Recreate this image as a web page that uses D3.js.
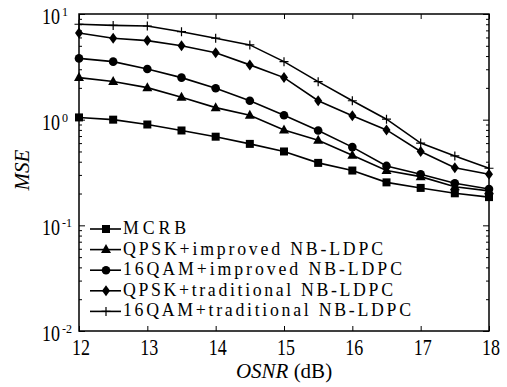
<!DOCTYPE html>
<html>
<head>
<meta charset="utf-8">
<script src="https://cdn.jsdelivr.net/npm/d3@7"></script>
<style>
  body { margin: 0; background: #fff; }
</style>
</head>
<body>
<div id="chart"></div>
<script>
var osnr = [12, 12.5, 13, 13.5, 14, 14.5, 15, 15.5, 16, 16.5, 17, 17.5, 18]

var mcrb = [1.05, 1.0, 0.9, 0.79, 0.69, 0.59, 0.5, 0.39, 0.33, 0.255, 0.226, 0.201, 0.185]
var qpskImproved = [2.5, 2.3, 2.01, 1.63, 1.3, 1.1, 0.8, 0.64, 0.46, 0.33, 0.289, 0.232, 0.212]
var qamImproved = [3.8, 3.54, 3.02, 2.5, 1.98, 1.51, 1.1, 0.79, 0.55, 0.365, 0.304, 0.25, 0.221]
var qpskTraditional = [6.6, 5.9, 5.6, 5.0, 4.3, 3.3, 2.5, 1.51, 1.09, 0.8, 0.5, 0.351, 0.304]
var qamTraditional = [8.0, 7.8, 7.7, 6.8, 5.9, 5.1, 3.54, 2.29, 1.51, 1.01, 0.6, 0.454, 0.347]

var seriesNames = ["MCRB", "QPSK+improved NB-LDPC", "16QAM+improved NB-LDPC",
  "QPSK+traditional NB-LDPC", "16QAM+traditional NB-LDPC"]
var seriesMarkers = ["square", "triangle", "circle", "diamond", "plus"]
var xTicks = [12, 13, 14, 15, 16, 17, 18]
var yTicks = [1e1, 1e0, 1e-1, 1e-2]
var yTickExp = ["1", "0", "-1", "-2"]

var serif = "'Liberation Serif', 'Times New Roman', 'DejaVu Serif', serif"
var W = 507, H = 387
var margin = {top: 14, right: 18, bottom: 56, left: 79}
var width = W - margin.left - margin.right
var height = H - margin.top - margin.bottom

var svg = d3.select("#chart").append("svg")
  .attr("width", W).attr("height", H)
  .attr("font-family", serif)
var g = svg.append("g")
  .attr("transform", "translate(" + margin.left + "," + margin.top + ")")

var x = d3.scaleLinear().domain([12, 18]).range([0, width])
var y = d3.scaleLog().domain([1e-2, 1e1]).range([height, 0])

// minor log ticks
var minor = []
;[0.01, 0.1, 1].forEach(function(b) { for (var k = 2; k <= 9; k++) minor.push(b * k) })

// axes (ticks inside)
g.append("g").attr("transform", "translate(0," + height + ")")
  .call(d3.axisBottom(x).tickValues(xTicks).tickSize(-5).tickFormat(""))
g.append("g")
  .call(d3.axisTop(x).tickValues(xTicks).tickSize(-5).tickFormat(""))
g.append("g")
  .call(d3.axisLeft(y).tickValues(yTicks).tickSize(-6).tickFormat(""))
g.append("g")
  .call(d3.axisLeft(y).tickValues(minor).tickSize(-3).tickFormat(""))
g.append("g").attr("transform", "translate(" + width + ",0)")
  .call(d3.axisRight(y).tickValues(yTicks).tickSize(-6).tickFormat(""))
g.append("g").attr("transform", "translate(" + width + ",0)")
  .call(d3.axisRight(y).tickValues(minor).tickSize(-3).tickFormat(""))
g.selectAll(".domain").remove()
g.selectAll(".tick line").attr("stroke", "#000").attr("stroke-width", 1)

g.append("rect").attr("width", width).attr("height", height)
  .attr("fill", "none").attr("stroke", "#000").attr("stroke-width", 1.5)

// tick labels (glyphs look taller than wide in the source, so stretch vertically)
g.selectAll(".xlab").data(xTicks).enter().append("text")
  .attr("transform", d => "translate(" + (x(d) + 2) + "," + (height + 24) + ") scale(1,1.25)")
  .attr("text-anchor", "middle").attr("font-size", 18)
  .attr("fill", "#000")
  .text(d => d)

var ylab = g.selectAll(".ylab").data(yTicks).enter().append("g")
  .attr("transform", d => "translate(-37," + (y(d) + 10) + ")")
ylab.append("text").attr("transform", "scale(1,1.25)")
  .attr("font-size", 18).attr("fill", "#000")
  .text("10")
ylab.append("text").attr("x", 20).attr("y", -8).attr("font-size", 12).attr("fill", "#000")
  .text((d, i) => yTickExp[i])

// axis titles
var xt = svg.append("text")
  .attr("x", margin.left + width / 2).attr("y", H - 9)
  .attr("text-anchor", "middle").attr("font-size", 21).attr("fill", "#000")
xt.append("tspan").attr("font-style", "italic").text("OSNR")
xt.append("tspan").text(" (dB)")

svg.append("text")
  .attr("transform", "translate(29,170) rotate(-90)")
  .attr("text-anchor", "middle").attr("font-size", 21).attr("fill", "#000")
  .attr("font-style", "italic").text("MSE")

// markers
function drawMarker(sel, type) {
  if (type === "square") {
    sel.append("rect").attr("x", -4).attr("y", -4).attr("width", 8).attr("height", 8).attr("fill", "#000")
  } else if (type === "triangle") {
    sel.append("path").attr("d", "M0,-5.5L5,3.5L-5,3.5Z").attr("fill", "#000")
  } else if (type === "circle") {
    sel.append("circle").attr("r", 4.3).attr("fill", "#000")
  } else if (type === "diamond") {
    sel.append("path").attr("d", "M0,-5.5L4,0L0,5.5L-4,0Z").attr("fill", "#000")
  } else {
    sel.append("path").attr("d", "M-4.5,0H4.5M0,-4.5V4.5").attr("stroke", "#000").attr("stroke-width", 1.2)
  }
}

var allSeries = [mcrb, qpskImproved, qamImproved, qpskTraditional, qamTraditional]
var line = d3.line().x((d, i) => x(osnr[i])).y(d => y(d))

allSeries.forEach(function(vals, s) {
  g.append("path").datum(vals)
    .attr("fill", "none").attr("stroke", "#000").attr("stroke-width", 1.6)
    .attr("d", line)
  g.selectAll(".m" + s).data(vals).enter().append("g")
    .attr("transform", (d, i) => "translate(" + x(osnr[i]) + "," + y(d) + ")")
    .each(function() { drawMarker(d3.select(this), seriesMarkers[s]) })
})

// legend
var legendWidths = [63, 260, 279, 270, 288]
var legend = g.append("g").attr("transform", "translate(11," + (229 - margin.top) + ")")
seriesNames.forEach(function(name, i) {
  var row = legend.append("g").attr("transform", "translate(0," + (i * 20.6) + ")")
  row.append("line").attr("x1", 0).attr("x2", 31).attr("stroke", "#000").attr("stroke-width", 1.6)
  drawMarker(row.append("g").attr("transform", "translate(16,0)"), seriesMarkers[i])
  row.append("text").attr("x", 33).attr("y", 5).attr("font-size", 17.8).attr("fill", "#000")
    .attr("textLength", legendWidths[i]).attr("lengthAdjust", "spacing")
    .text(name)
})
</script>
</body>
</html>
